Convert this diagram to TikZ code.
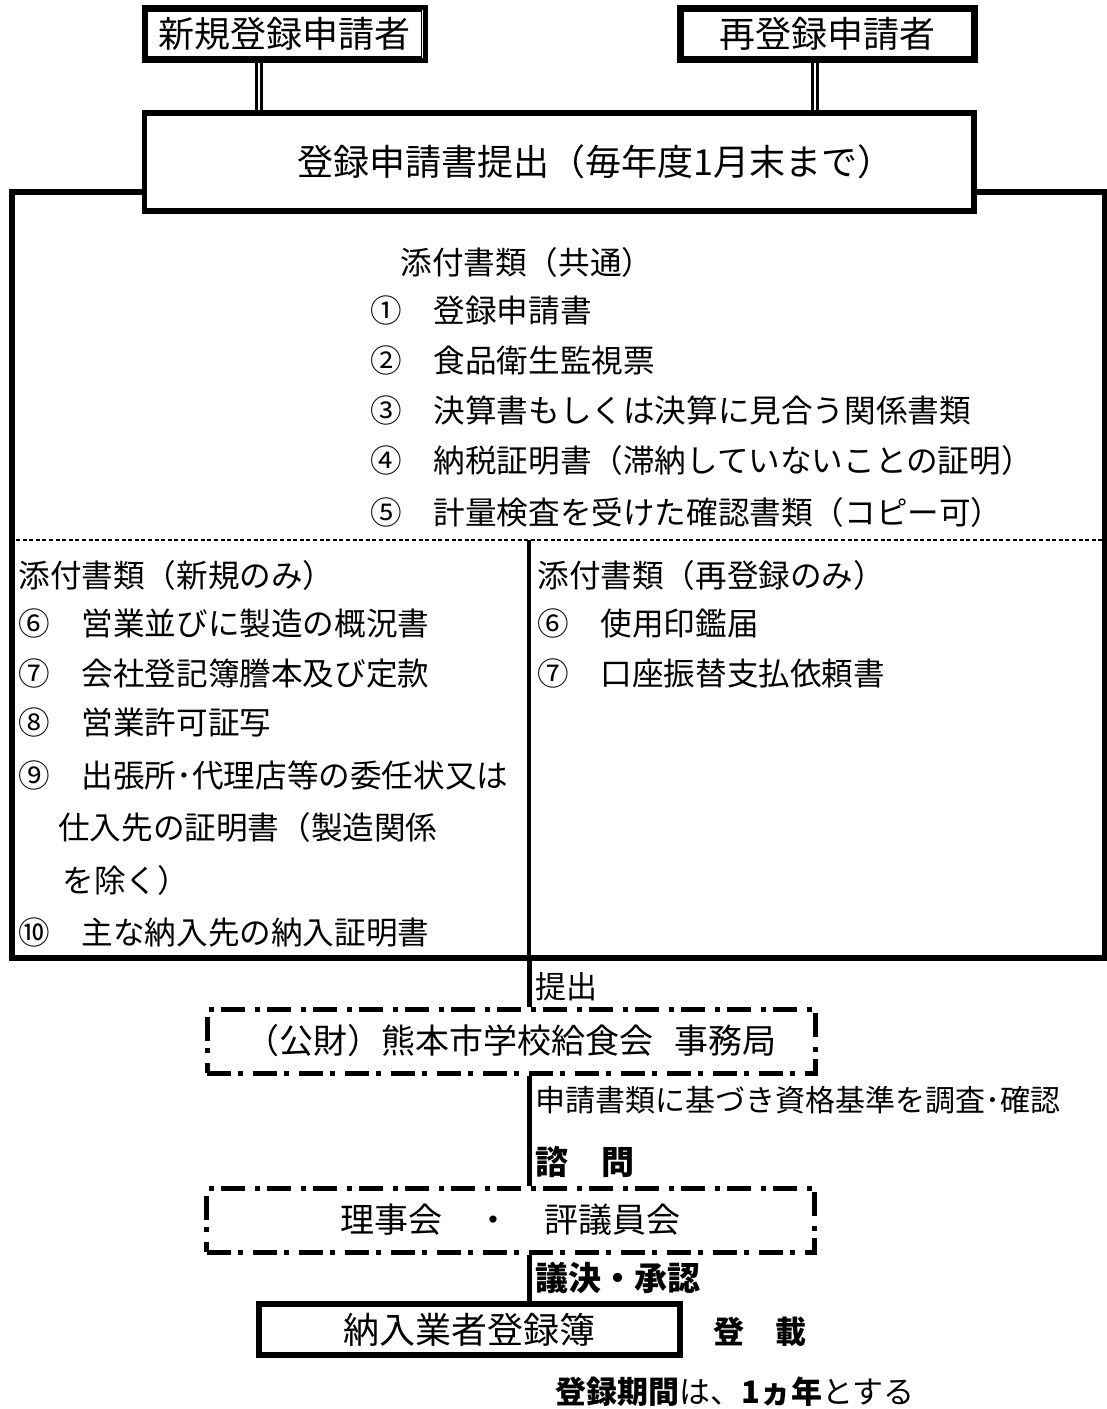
\documentclass[tikz,border=0pt]{standalone}
\usepackage{fontspec}
\setmainfont{Noto Sans CJK JP}
\usetikzlibrary{positioning, calc}

\begin{document}
\begin{tikzpicture}[x=0.5pt, y=-0.5pt,
  applicant/.style={rectangle, draw, line width=2.5pt, inner sep=0pt, minimum height=26.75pt, font=\fontsize{18}{20}\selectfont},
  titlebox/.style={rectangle, draw, fill=white, line width=2.7pt, inner sep=0pt, font=\fontsize{18}{20}\selectfont},
  docframe/.style={rectangle, draw, line width=2.7pt, inner sep=0pt, minimum width=546.5pt, minimum height=383pt},
  office/.style={rectangle, draw, line width=2.5pt, dash pattern=on 12pt off 3.5pt on 2.5pt off 5pt, inner sep=0pt, minimum width=304pt, minimum height=32pt, font=\fontsize{17}{19}\selectfont},
  txt/.style={anchor=west, inner sep=0pt, font=\fontsize{15.8}{18}\selectfont},
  lbl/.style={anchor=west, inner sep=0pt, font=\fontsize{15.5}{18}\selectfont},
  heavy/.style={anchor=west, inner sep=0pt, font=\fontsize{16.5}{18}\selectfont\bfseries},
  rim/.style={line width=0.85pt},
  dbl/.style={double, line width=1.2pt, double distance=1.3pt},
  link/.style={line width=2.5pt},
  divline/.style={line width=1.6pt},
  sepline/.style={line width=1pt, dash pattern=on 2pt off 1.3pt}
]
\useasboundingbox (0,0) rectangle (1107,1409);

% applicants
\node[applicant, minimum width=140.5pt] (newapp) at (284.5,34) {新規登録申請者};
\node[applicant, minimum width=148pt] (reapp) at (827.5,34) {再登録申請者};
\draw[rim] ([shift={(6,6)}]newapp.north west) rectangle ([shift={(-6,-6)}]newapp.south east);
\draw[rim] ([shift={(6,6)}]reapp.north west) rectangle ([shift={(-6,-6)}]reapp.south east);

% documents frame and submission box
\node[docframe] (docs) at (558.5,575) {};
\node[titlebox, minimum width=414.75pt, minimum height=49pt] (submit) at (559.25,162) {\hspace*{2em}登録申請書提出（毎年度1月末まで）};
\coordinate (newdrop) at (259,0);
\coordinate (redrop) at (815,0);
\draw[dbl] (newapp.south -| newdrop) -- (submit.north -| newdrop);
\draw[dbl] (reapp.south -| redrop) -- (submit.north -| redrop);

% common documents
\node[txt] (common) at (400,262) {添付書類（共通）};
\node[txt] (c1) at (370,310) {①　登録申請書};
\node[txt] (c2) at (370,360) {②　食品衛生監視票};
\node[txt] (c3) at (370,410) {③　決算書もしくは決算に見合う関係書類};
\node[txt] (c4) at (370,460) {④　納税証明書（滞納していないことの証明）};
\node[txt] (c5) at (370,512) {⑤　計量検査を受けた確認書類（コピー可）};

\coordinate (split) at (529,540);
\draw[sepline] (docs.west |- split) -- (docs.east |- split);
\draw[divline] (split) -- (split |- docs.south);

% new applicants only
\node[txt] (newonly) at (18,575) {添付書類（新規のみ）};
\node[txt] (n6) at (18,623) {⑥　営業並びに製造の概況書};
\node[txt] (n7) at (18,673) {⑦　会社登記簿謄本及び定款};
\node[txt] (n8) at (18,722) {⑧　営業許可証写};
\node[txt] (n9) at (18,775) {⑨　出張所･代理店等の委任状又は};
\node[txt] (n9b) at (58,827) {仕入先の証明書（製造関係};
\node[txt] (n9c) at (62,880) {を除く）};
\node[txt] (n10) at (18,932) {⑩　主な納入先の納入証明書};

% re-registration only
\node[txt] (reonly) at (537,575) {添付書類（再登録のみ）};
\node[txt] (r6) at (537,623) {⑥　使用印鑑届};
\node[txt] (r7) at (537,673) {⑦　口座振替支払依頼書};

% review flow
\node[office] (office) at (511,1041) {（公財）熊本市学校給食会\hspace{0.6em}事務局};
\node[office] (board) at (510.5,1220) {理事会　・　評議員会};
\node[titlebox, minimum width=210.5pt, minimum height=25.5pt] (register) at (469.5,1329.5) {納入業者登録簿};

\draw[link] (split |- docs.south) -- (split |- office.north);
\draw[link] (split |- office.south) -- (split |- board.north);
\draw[link] (split |- board.south) -- (split |- register.north);

\node[lbl] (teishutsu) at (535,987) {提出};
\node[lbl, font=\fontsize{15}{18}\selectfont] (check) at (535,1100) {申請書類に基づき資格基準を調査･確認};
\node[heavy] (shimon) at (535,1162) {諮　問};
\node[heavy] (giketsu) at (535,1278) {議決・承認};
\node[heavy, font=\fontsize{15.5}{18}\selectfont\bfseries] (tousai) at (713,1332) {登　載};
\node[lbl] (period) at (555,1392) {\textbf{登録期間}は、\textbf{1ヵ年}とする};
\end{tikzpicture}
\end{document}
